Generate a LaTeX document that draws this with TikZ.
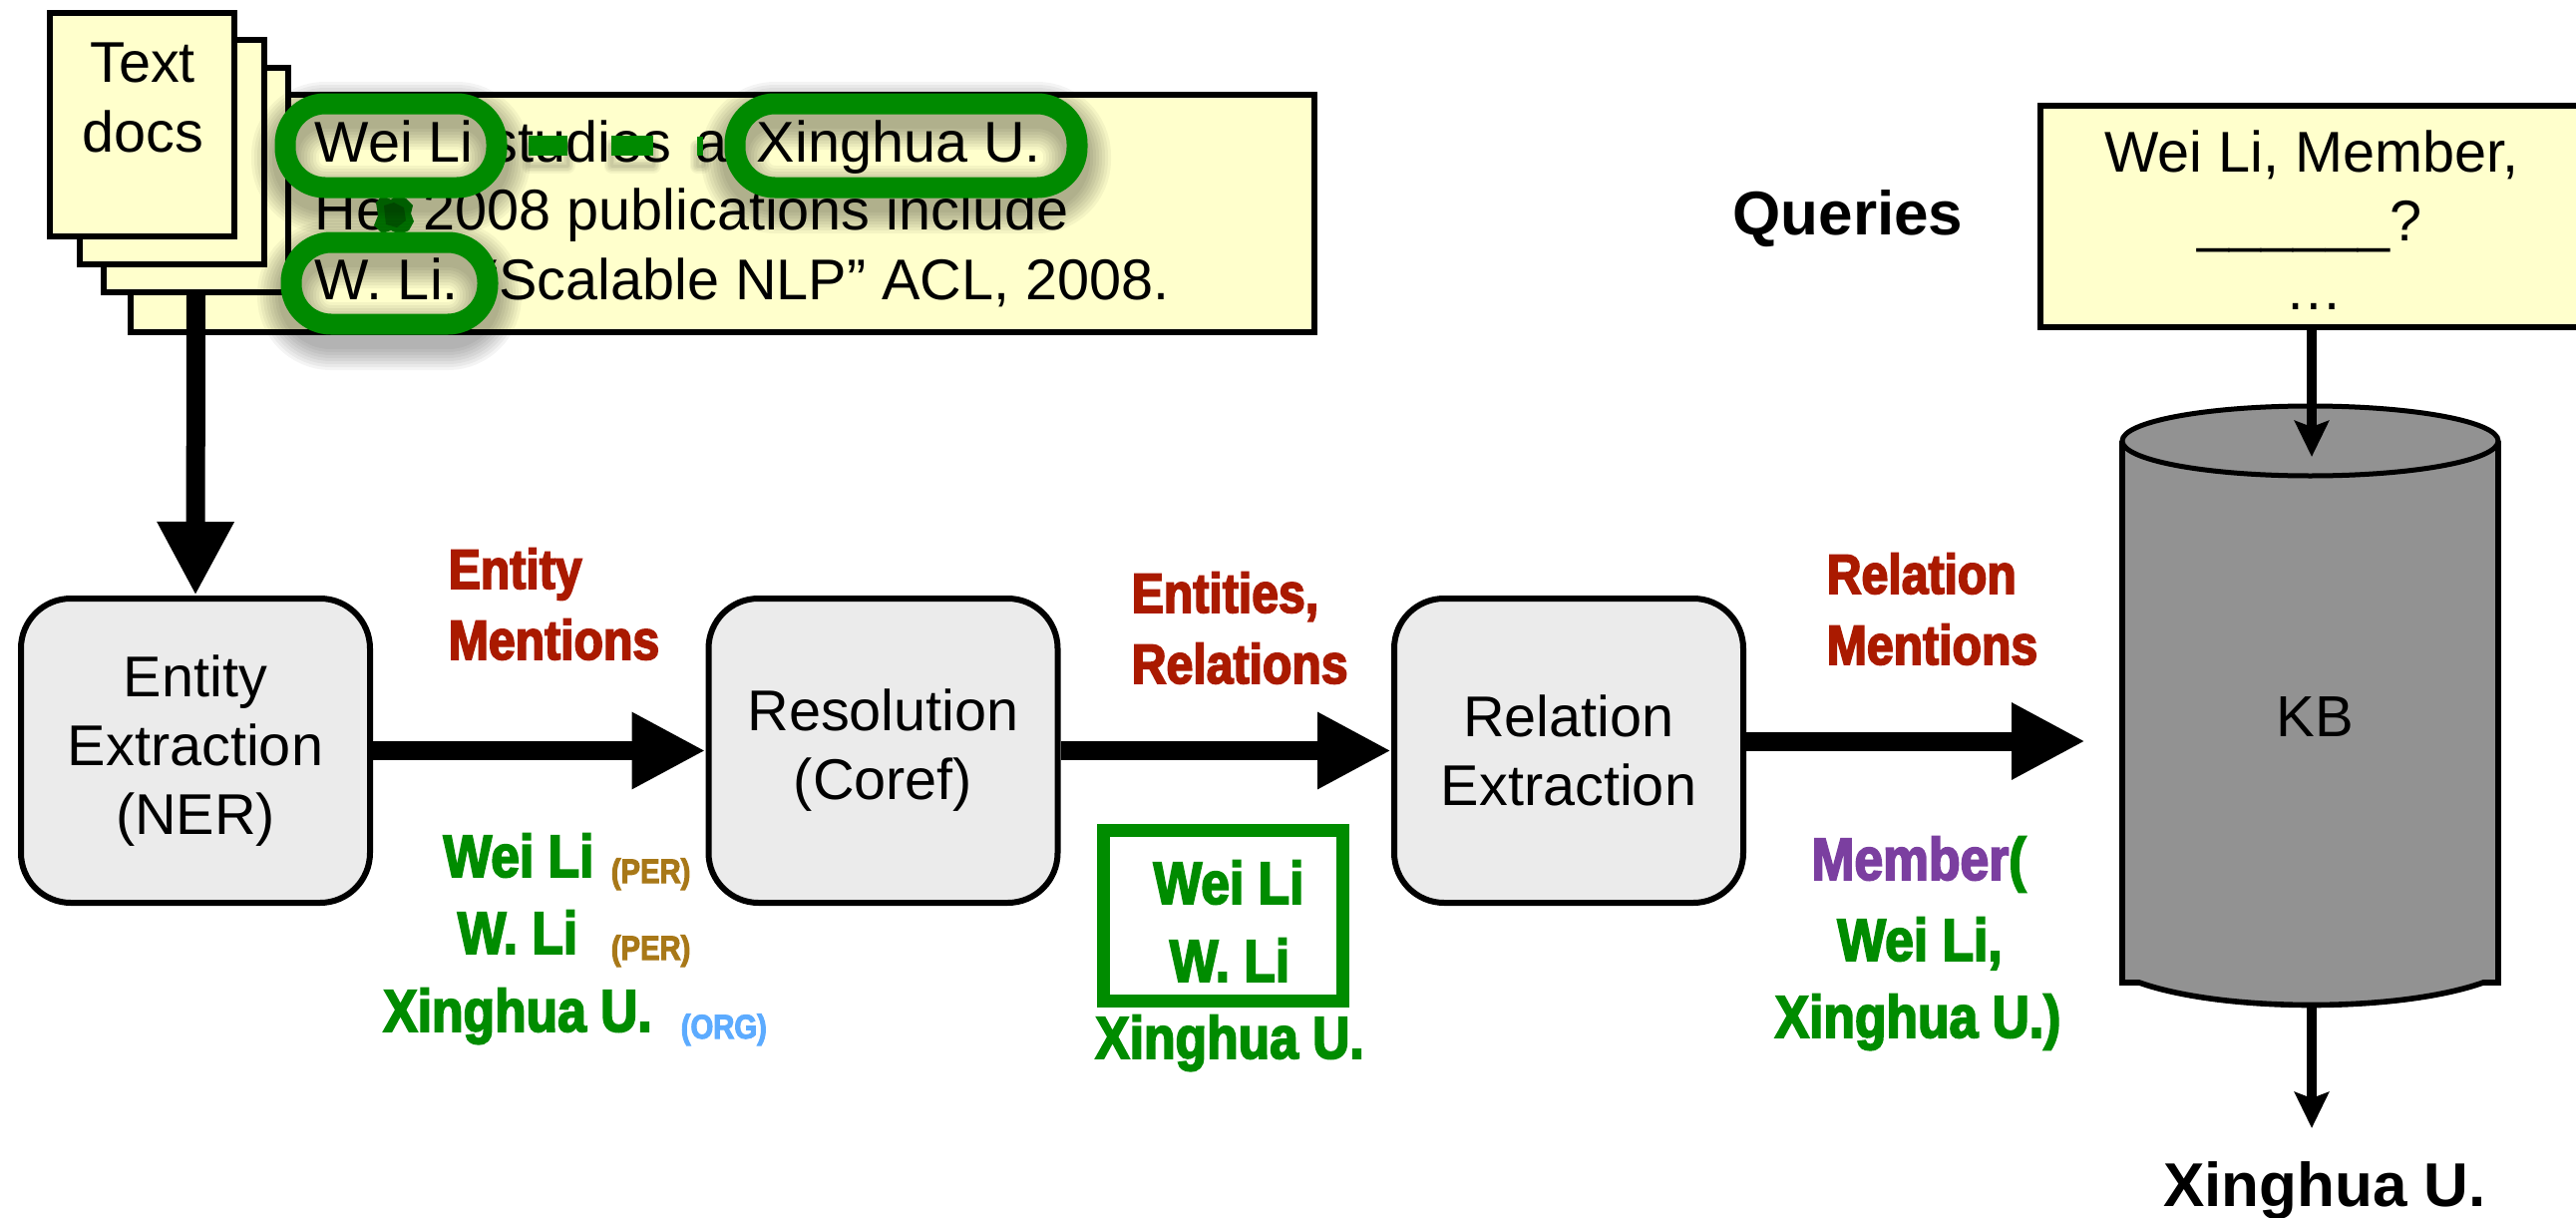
\documentclass[tikz,border=0pt]{standalone}
\usepackage{fontspec}
\setmainfont{Liberation Sans}
\newfontfamily\condf[FakeStretch=0.86,FakeBold=3]{Liberation Sans}
\usetikzlibrary{arrows.meta}
\definecolor{paper}{HTML}{FFFFCC}
\definecolor{boxgray}{HTML}{EBEBEB}
\definecolor{kbgray}{HTML}{929292}
\definecolor{myred}{HTML}{AA1A00}
\definecolor{mygreen}{HTML}{008C00}
\definecolor{ringgreen}{HTML}{008A00}
\definecolor{mypurple}{HTML}{7B3FA0}
\definecolor{tagper}{HTML}{A87818}
\definecolor{tagorg}{HTML}{5CABFF}
\newcommand\gring[4]{%
  \begin{scope}[yshift=-3pt]
    \foreach \k in {1,...,8}{
      \draw[black, opacity=0.045, line width={(20+6*\k)*0.25pt}, rounded corners=10pt] (#1,#2) rectangle (#3,#4);
    }
  \end{scope}
  \draw[ringgreen, line width=5.25pt, rounded corners=10pt] (#1,#2) rectangle (#3,#4);
}
\newcommand\gmark[4]{%
  \begin{scope}[yshift=-2.5pt]
    \foreach \k in {1,...,5}{
      \draw[black, opacity=0.045, line width={(3*\k)*0.25pt}, line join=round] (#1,#2) rectangle (#3,#4);
    }
  \end{scope}
  \fill[ringgreen] (#1,#2) rectangle (#3,#4);
}
\begin{document}
\begin{tikzpicture}[x=0.25pt,y=-0.25pt,
  sheet/.style={draw, fill=paper, line width=1.5pt, inner sep=0pt},
  txt/.style={font=\fontsize{14.4pt}{17.25pt}\selectfont, inner sep=0pt},
  proc/.style={draw, fill=boxgray, line width=1.5pt, rounded corners=12.5pt,
    minimum width=87.5pt, minimum height=76.25pt, align=center, inner sep=0pt,
    font=\fontsize{14.4pt}{17.25pt}\selectfont},
  fat/.style={line width=4.75pt, -{Triangle[length=18.5pt,width=18pt]}},
  slim/.style={line width=2.5pt, -{Stealth[length=9pt,width=8.5pt,inset=1.5pt]}},
  redl/.style={text=myred, font=\condf\bfseries\fontsize{14pt}{17pt}\selectfont, inner sep=0pt, anchor=base west},
  grn/.style={text=mygreen, font=\condf\bfseries\fontsize{15pt}{18pt}\selectfont, inner sep=0pt, anchor=base},
  tagl/.style={font=\condf\bfseries\fontsize{8.5pt}{10pt}\selectfont, inner sep=0pt, anchor=base west},
  boldl/.style={font=\bfseries\fontsize{15.5pt}{18pt}\selectfont, inner sep=0pt, anchor=base},
]
\useasboundingbox (0,0) rectangle (2583,1221);
\clip (0,0) rectangle (2583,1221);

% document stack
\node[sheet, minimum width=296.75pt, minimum height=59.5pt] (doc) at (724.5,214) {};
\node[sheet, minimum width=46.25pt, minimum height=56.25pt] (s3) at (196.5,180.5) {};
\node[sheet, minimum width=46.25pt, minimum height=56.25pt] (s2) at (172.5,152.5) {};
\node[sheet, minimum width=46.25pt, minimum height=56pt] (s1) at (142.5,125) {};
\node[txt, anchor=base] (tx1) at (143,82) {Text};
\node[txt, anchor=base] (tx2) at (143,152) {docs};

\node[txt, anchor=base west] (l1a) at (315,162) {Wei Li studies};
\node[txt, anchor=base west] (l1b) at (697,162) {at};
\node[txt, anchor=base west] (l1c) at (758,162) {Xinghua U.};
\node[txt, anchor=base west] (l2) at (315,230) {Her 2008 publications include};
\node[txt, anchor=base west] (l3) at (315,300) {W. Li. “Scalable NLP” ACL, 2008.};

% green marks
\gmark{530}{136}{569}{156}
\gmark{613}{136}{655}{156}
\gmark{699}{137}{705}{156}
\fill[ringgreen] (377,203) -- (383,196) -- (392,200) -- (399,195) -- (407,199) -- (414,206) -- (412,214)
  -- (415,222) -- (410,231) -- (401,235) -- (392,231) -- (383,234) -- (375,226) -- (379,216) -- cycle;
\fill[mygreen!75!black] (385,206) -- (395,203) -- (405,208) -- (407,221) -- (398,228) -- (387,225) -- cycle;

\gring{286}{104}{498}{188}
\gring{737}{104}{1080}{188}
\gring{292}{243}{489}{325}

% pipeline
\node[proc] (ner) at (196,752.5) {Entity\\Extraction\\(NER)};
\node[proc] (res) at (885.5,752.5) {Resolution\\(Coref)};
\node[proc] (rel) at (1573,752.5) {Relation\\Extraction};

\draw[fat] (s3.south) -- (ner.north);
\draw[fat] (ner.east) -- (res.west);
\draw[fat] (res.east) -- (rel.west);
\coordinate (kbin) at (2091,743);
\draw[fat] (rel.east |- kbin) -- (kbin);

% red labels
\node[redl] (em1) at (449,590) {Entity};
\node[redl] (em2) at (449,661) {Mentions};
\node[redl] (er1) at (1134,614) {Entities,};
\node[redl] (er2) at (1134,685) {Relations};
\node[redl] (rm1) at (1831,595) {Relation};
\node[redl] (rm2) at (1831,666) {Mentions};

% entity mentions
\node[grn] (g1) at (520,879) {Wei Li};
\node[tagl, text=tagper] (t1) at (612,885) {(PER)};
\node[grn] (g2) at (519,956) {W. Li};
\node[tagl, text=tagper] (t2) at (612,962) {(PER)};
\node[grn] (g3) at (519,1034) {Xinghua U.};
\node[tagl, text=tagorg] (t3) at (682,1041) {(ORG)};

% coref cluster
\node[draw=mygreen, line width=3.25pt, minimum width=60pt, minimum height=42.75pt, inner sep=0pt] (gbox) at (1226.5,918) {};
\node[grn] (c1) at (1232,906) {Wei Li};
\node[grn] (c2) at (1233,984) {W. Li};
\node[grn] (c3) at (1233,1061) {Xinghua U.};

% relation mention
\node[grn] (m1) at (1924,882) {\textcolor{mypurple}{Member}(};
\node[grn] (m2) at (1925,963) {Wei Li,};
\node[grn] (m3) at (1923,1040) {Xinghua U.)};

% queries
\node[boldl] (qlab) at (1853,235) {Queries};
\node[sheet, anchor=north west, minimum width=144.25pt, minimum height=55.5pt] (qbox) at (2043,103) {};
\node[txt, anchor=base] (q1) at (2318,172) {Wei Li, Member,};
\node[txt, anchor=base] (q2) at (2316,241) {\_\_\_\_\_\_?};
\node[txt, anchor=base] (q3) at (2320,310) {…};

% KB cylinder
\draw[fill=kbgray, line width=1.4pt] (2128,442) -- (2128,985) -- (2145,985)
  .. controls (2230,1015) and (2405,1015) .. (2490,985) -- (2505,985) -- (2505,442);
\draw[fill=kbgray, line width=1.25pt] (2316.5,442) ellipse [x radius=188.5, y radius=35];
\node[txt, font=\fontsize{14.5pt}{17pt}\selectfont] (kb) at (2321,719) {KB};

\coordinate (kbtop) at (2318,458);
\draw[slim] (qbox.south -| kbtop) -- (kbtop);
\coordinate (kbbot) at (2318,1008);
\coordinate (anstip) at (2318,1131);
\draw[slim] (kbbot) -- (anstip);
\node[boldl] (ans) at (2331,1209) {Xinghua U.};
\end{tikzpicture}
\end{document}
